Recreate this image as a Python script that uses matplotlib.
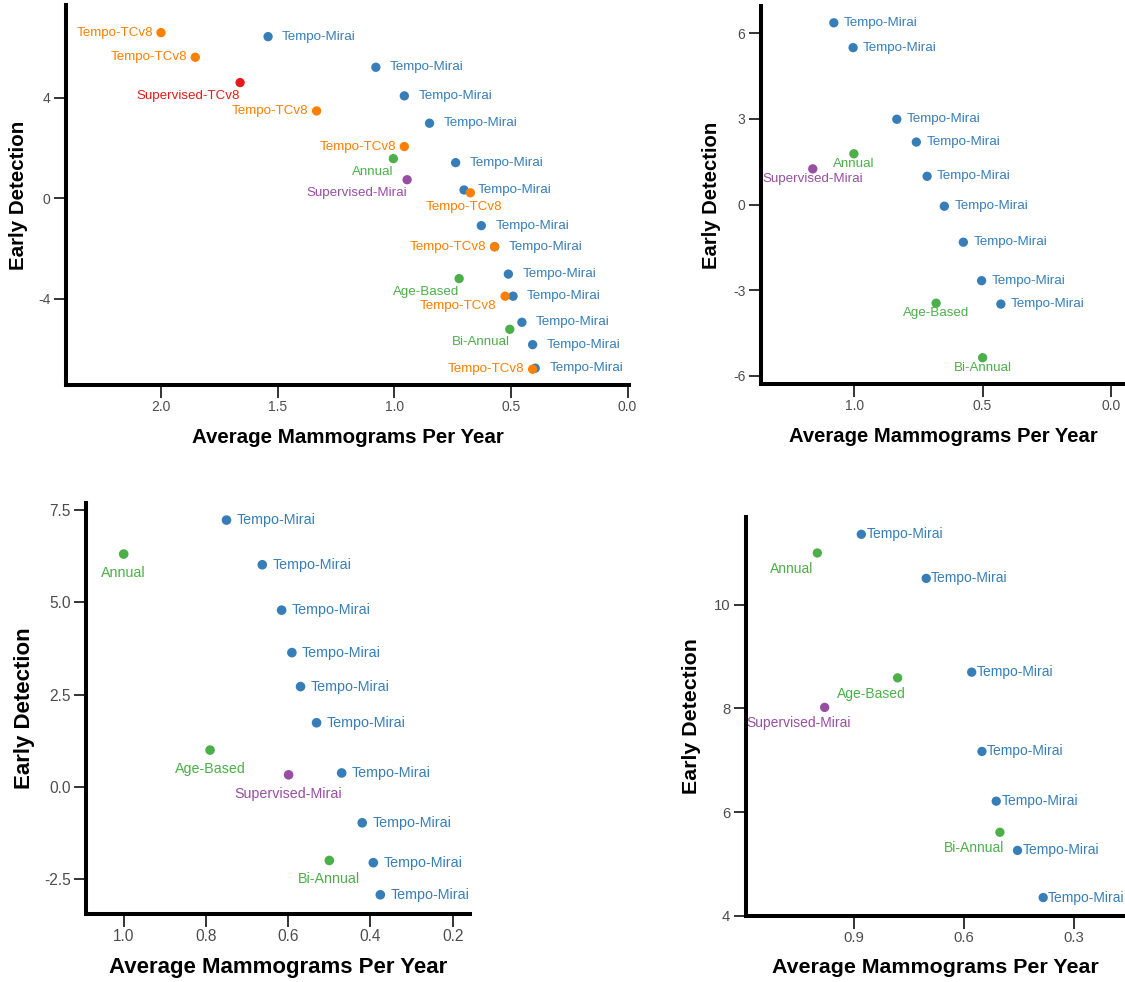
import matplotlib
matplotlib.use("Agg")
import matplotlib.pyplot as plt
from matplotlib.ticker import FormatStrFormatter

plt.rcParams["font.family"] = ["Liberation Sans", "DejaVu Sans"]
plt.rcParams["axes.unicode_minus"] = False

colors = {
    "Tempo-Mirai": "#377eb8",
    "Tempo-TCv8": "#ff7f00",
    "Supervised-TCv8": "#e41a1c",
    "Supervised-Mirai": "#984ea3",
    "Annual": "#4daf4a",
    "Age-Based": "#4daf4a",
    "Bi-Annual": "#4daf4a",
}

# ---- panel 1 (top left) ----
p1_method = ["Tempo-Mirai"] * 13 + ["Tempo-TCv8"] * 8 + [
    "Supervised-TCv8", "Annual", "Supervised-Mirai", "Age-Based", "Bi-Annual"]
p1_x = [1.541, 1.079, 0.957, 0.849, 0.737, 0.701, 0.627, 0.570, 0.511, 0.491, 0.453, 0.407, 0.396,
        2.000, 1.853, 1.333, 0.957, 0.674, 0.570, 0.525, 0.407,
        1.661, 1.004, 0.945, 0.722, 0.505]
p1_y = [6.44, 5.22, 4.08, 2.99, 1.42, 0.33, -1.09, -1.93, -3.02, -3.90, -4.94, -5.83, -6.77,
        6.60, 5.62, 3.48, 2.06, 0.22, -1.93, -3.90, -6.81,
        4.61, 1.58, 0.74, -3.20, -5.22]

# ---- panel 2 (top right) ----
p2_method = ["Tempo-Mirai"] * 9 + ["Annual", "Supervised-Mirai", "Age-Based", "Bi-Annual"]
p2_x = [1.079, 1.004, 0.834, 0.758, 0.716, 0.649, 0.575, 0.504, 0.429,
        1.001, 1.161, 0.681, 0.500]
p2_y = [6.37, 5.50, 2.99, 2.19, 0.99, -0.06, -1.32, -2.67, -3.49,
        1.78, 1.25, -3.46, -5.37]

# ---- panel 3 (bottom left) ----
p3_method = ["Tempo-Mirai"] * 10 + ["Annual", "Age-Based", "Supervised-Mirai", "Bi-Annual"]
p3_x = [0.750, 0.663, 0.616, 0.591, 0.570, 0.531, 0.470, 0.420, 0.393, 0.376,
        1.000, 0.790, 0.599, 0.500]
p3_y = [7.23, 6.02, 4.79, 3.64, 2.72, 1.74, 0.38, -0.97, -2.05, -2.92,
        6.31, 1.00, 0.33, -1.99]

# ---- panel 4 (bottom right) ----
p4_method = ["Tempo-Mirai"] * 7 + ["Annual", "Age-Based", "Supervised-Mirai", "Bi-Annual"]
p4_x = [0.879, 0.702, 0.578, 0.550, 0.511, 0.453, 0.383,
        0.999, 0.780, 0.979, 0.501]
p4_y = [11.36, 10.51, 8.70, 7.17, 6.21, 5.26, 4.35,
        11.00, 8.59, 8.02, 5.61]

# label offsets in pixels (dx, dy, ha)
p1_offsets = [(14, 0, "left")] * 13 + [
    (-8, 0, "right"), (-8, 0, "right"), (-8, 0, "right"), (-8, 0, "right"),
    (-6, -14, "center"), (-8, 0, "right"), (-9, -10, "right"), (-8, 0, "right"),
] + [(0, -13, "right")] * 5
p2_offsets = [(10, 0, "left")] * 9 + [(0, -10, "center")] * 4
p3_offsets = [(10, 0, "left")] * 10 + [(0, -19, "center")] * 4
p4_offsets = [(5, 0, "left")] * 7 + [(-26, -16, "center")] * 4

fig = plt.figure(figsize=(11.25, 9.82), dpi=100)

panels = [
    dict(rect=[0.0585, 0.6079, 0.5006, 0.3870], xlim=(2.408, -0.006), ylim=(-7.44, 7.70),
         xticks=[2.0, 1.5, 1.0, 0.5, 0.0], yticks=[-4, 0, 4], xfmt="%.1f", yfmt="%d",
         data=(p1_method, p1_x, p1_y), offsets=p1_offsets,
         sizes=(14.8, 10.0, 9.6), ms=45, xl=(52, 380), yl=(47, 563)),
    dict(rect=[0.6762, 0.6090, 0.3247, 0.3849], xlim=(1.3635, -0.058), ylim=(-6.29, 6.96),
         xticks=[1.0, 0.5, 0.0], yticks=[-6, -3, 0, 3, 6], xfmt="%.1f", yfmt="%d",
         data=(p2_method, p2_x, p2_y), offsets=p2_offsets,
         sizes=(14.6, 10.0, 9.6), ms=45, xl=(52.7, 378), yl=(49, 365)),
    dict(rect=[0.07644, 0.06925, 0.3413, 0.4188], xlim=(1.0917, 0.158), ylim=(-3.44, 7.70),
         xticks=[1.0, 0.8, 0.6, 0.4, 0.2], yticks=[-2.5, 0, 2.5, 5.0, 7.5], xfmt="%.1f", yfmt="%.1f",
         data=(p3_method, p3_x, p3_y), offsets=p3_offsets,
         sizes=(16, 11.2, 10.3), ms=48, xl=(53.3, 411.3), yl=(62, 384)),
    dict(rect=[0.6628, 0.06752, 0.3380, 0.4063], xlim=(1.1945, 0.1574), ylim=(4.0, 11.70),
         xticks=[0.9, 0.6, 0.3], yticks=[4, 6, 8, 10], xfmt="%.1f", yfmt="%d",
         data=(p4_method, p4_x, p4_y), offsets=p4_offsets,
         sizes=(15.4, 10.7, 10.0), ms=45, xl=(51.6, 399), yl=(54, 380.3)),
]

for p in panels:
    ax = fig.add_axes(p["rect"])
    methods, xs, ys = p["data"]
    lab_fs, tick_fs, note_fs = p["sizes"]

    # blue points first so the orange ones sit on top
    order = sorted(range(len(methods)), key=lambda i: methods[i] != "Tempo-Mirai")
    for i in order:
        c = colors[methods[i]]
        ax.scatter(xs[i], ys[i], s=p["ms"], color=c, edgecolors="none", zorder=3)
        dx, dy, ha = p["offsets"][i]
        ax.annotate(methods[i], (xs[i], ys[i]), xytext=(dx, dy), textcoords="offset pixels",
                    ha=ha, va="center", color=c, fontsize=note_fs,
                    annotation_clip=False, zorder=4)

    ax.set_xlim(*p["xlim"])
    ax.set_ylim(*p["ylim"])
    ax.set_xticks(p["xticks"])
    ax.set_yticks(p["yticks"])
    ax.xaxis.set_major_formatter(FormatStrFormatter(p["xfmt"]))
    ax.yaxis.set_major_formatter(FormatStrFormatter(p["yfmt"]))

    for s in ["top", "right"]:
        ax.spines[s].set_visible(False)
    for s in ["left", "bottom"]:
        ax.spines[s].set_linewidth(2.9)
        ax.spines[s].set_color("black")
        ax.spines[s].set_capstyle("projecting")
    ax.tick_params(length=9, width=1.4, color="#333333", labelcolor="#4d4d4d",
                   labelsize=tick_fs, pad=2)

    ax.set_xlabel("Average Mammograms Per Year", fontsize=lab_fs, fontweight="bold", va="center")
    ax.set_ylabel("Early Detection", fontsize=lab_fs, fontweight="bold", va="center")
    dy_px, h_px = p["xl"]
    ax.xaxis.set_label_coords(0.5, -dy_px / h_px)
    dx_px, w_px = p["yl"]
    ax.yaxis.set_label_coords(-dx_px / w_px, 0.5)

fig.savefig("out.png", dpi=100)
